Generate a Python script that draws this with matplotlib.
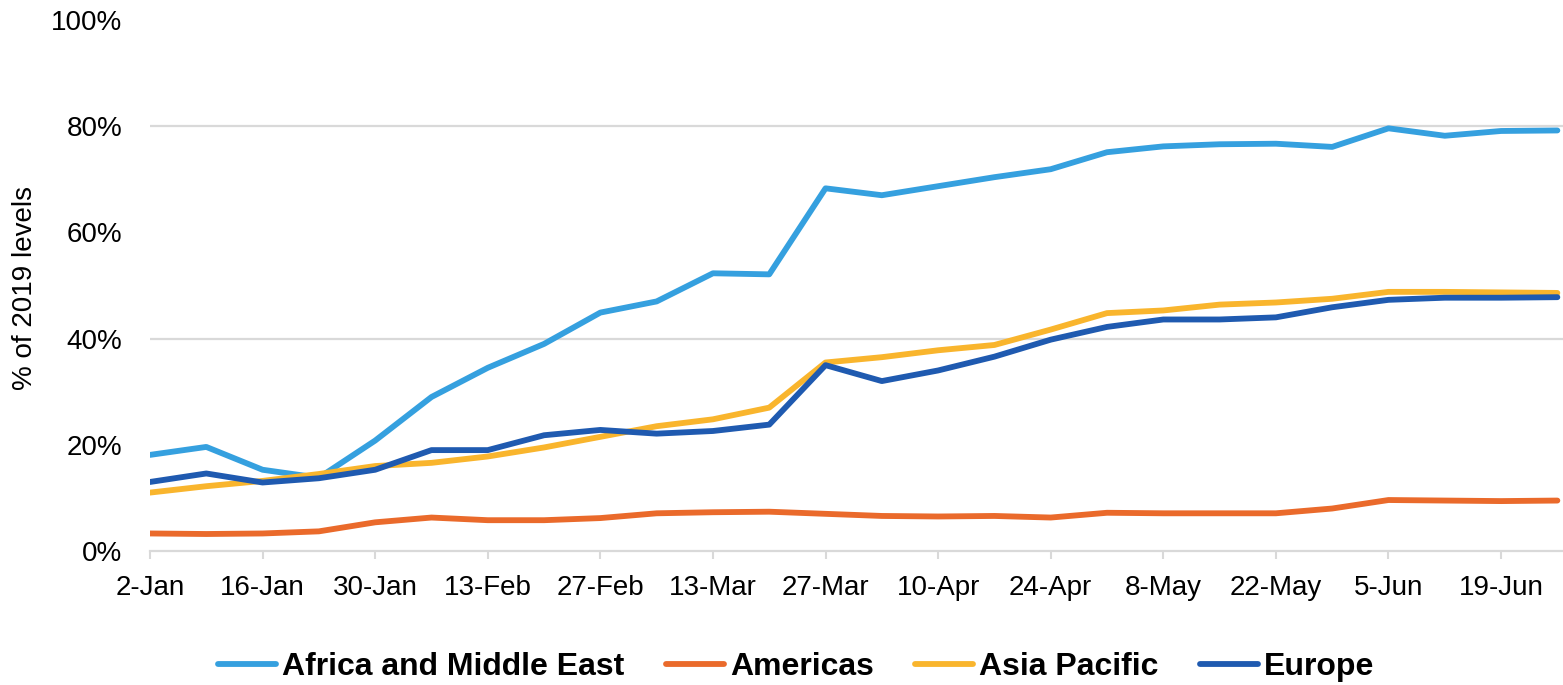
import matplotlib
matplotlib.use("Agg")
import matplotlib.pyplot as plt
from matplotlib.ticker import FixedLocator, FuncFormatter

plt.rcParams['font.family'] = ['Liberation Sans', 'DejaVu Sans']

weeks = ["2-Jan", "9-Jan", "16-Jan", "23-Jan", "30-Jan", "6-Feb", "13-Feb", "20-Feb",
         "27-Feb", "6-Mar", "13-Mar", "20-Mar", "27-Mar", "3-Apr", "10-Apr", "17-Apr",
         "24-Apr", "1-May", "8-May", "15-May", "22-May", "29-May", "5-Jun", "12-Jun",
         "19-Jun", "26-Jun"]

africa_me = [18.1, 19.6, 15.3, 13.8, 20.8, 29.0, 34.5, 39.0, 44.9, 47.0, 52.3, 52.1,
             68.3, 67.0, 68.7, 70.4, 71.9, 75.1, 76.2, 76.6, 76.7, 76.1, 79.6, 78.2,
             79.1, 79.2]
americas = [3.3, 3.2, 3.3, 3.7, 5.4, 6.3, 5.8, 5.8, 6.2, 7.1, 7.3, 7.4,
            7.0, 6.6, 6.5, 6.6, 6.3, 7.2, 7.1, 7.1, 7.1, 8.0, 9.6, 9.5, 9.4, 9.5]
asia_pacific = [11.0, 12.2, 13.2, 14.5, 16.0, 16.6, 17.8, 19.5, 21.5, 23.5, 24.8, 27.0,
                35.5, 36.5, 37.8, 38.8, 41.7, 44.8, 45.3, 46.4, 46.8, 47.5, 48.8, 48.8,
                48.7, 48.6]
europe = [13.0, 14.6, 12.9, 13.7, 15.3, 19.0, 19.0, 21.8, 22.8, 22.1, 22.6, 23.8,
          35.0, 32.0, 34.0, 36.6, 39.8, 42.2, 43.6, 43.6, 44.0, 45.9, 47.3, 47.7,
          47.7, 47.8]

series = [("Africa and Middle East", africa_me, "#35A0DF"),
          ("Americas", americas, "#EA6A2B"),
          ("Asia Pacific", asia_pacific, "#F9B52D"),
          ("Europe", europe, "#1F5AB0")]

W, H = 1563, 685
fig = plt.figure(figsize=(W / 100, H / 100), dpi=100)
ax = fig.add_axes([150 / W, (H - 551) / H, (W - 150) / W, (551 - 20) / H])

x = list(range(len(weeks)))
for name, vals, col in series:
    ax.plot(x, [v / 100 for v in vals], color=col, lw=4.2, label=name,
            solid_capstyle='round', solid_joinstyle='round')

ax.set_xlim(0, 25.1)
ax.set_ylim(0, 1.0)
ax.yaxis.set_major_locator(FixedLocator([0, 0.2, 0.4, 0.6, 0.8, 1.0]))
ax.yaxis.set_major_formatter(FuncFormatter(lambda v, p: f"{v*100:.0f}%"))
for g in (0.4, 0.8):
    ax.axhline(g, color="#D9D9D9", lw=1.6, zorder=0)

ax.set_xticks(x[::2])
ax.set_xticklabels(weeks[::2])
ax.tick_params(axis='x', length=6, width=1.5, color="#D9D9D9", labelsize=20, pad=11)
ax.tick_params(axis='y', length=0, labelsize=20, pad=20)

for s in ("top", "right", "left"):
    ax.spines[s].set_visible(False)
ax.spines["bottom"].set_color("#D9D9D9")
ax.spines["bottom"].set_linewidth(1.6)

fig.text(25 / W, 1 - 288 / H, "% of 2019 levels", rotation=90, fontsize=20,
         ha='center', va='center')

leg = fig.legend(loc='center', bbox_to_anchor=(0.5 + 15 / W, 1 - 667 / H), ncol=4,
                 frameon=False, prop={'size': 23, 'weight': 'bold'}, handlelength=1.8,
                 columnspacing=1.3, handletextpad=0.2)

fig.savefig("out.png", dpi=100)
